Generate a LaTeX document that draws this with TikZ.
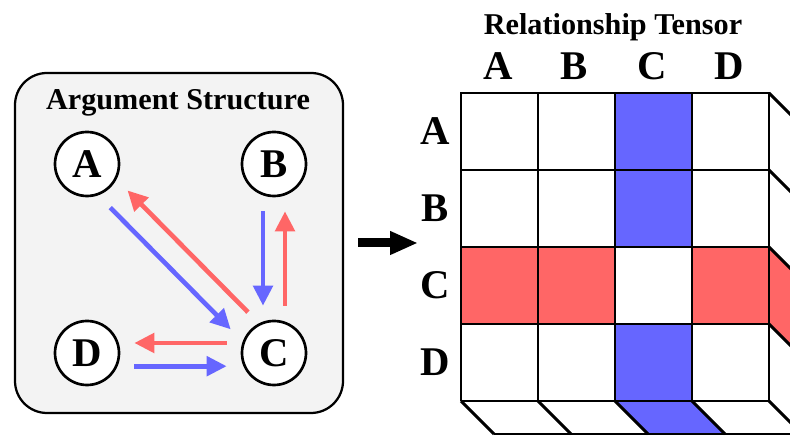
\documentclass[tikz,border=0pt]{standalone}
\usepackage{fontspec}
\setmainfont{Liberation Serif}
\usetikzlibrary{arrows.meta}

\definecolor{relblue}{HTML}{6666FF}
\definecolor{relred}{HTML}{FF6666}
\definecolor{panelgray}{HTML}{F3F3F3}

\begin{document}
\begin{tikzpicture}[x=1cm,y=1cm]
\tikzset{
  graphnode/.style={circle,draw,line width=1.9pt,fill=white,minimum size=16mm,inner sep=0pt,font=\fontsize{29}{30}\selectfont\bfseries},
  titletext/.style={anchor=base,font=\fontsize{21.5}{22}\selectfont\bfseries},
  axistext/.style={font=\fontsize{29}{30}\selectfont\bfseries},
  bluedirected/.style={-{Triangle[length=5mm,width=4.8mm]},line width=3.3pt,relblue,shorten <=3.5mm,shorten >=3.5mm},
  reddirected/.style={-{Triangle[length=5mm,width=4.8mm]},line width=3.3pt,relred,shorten <=3.5mm,shorten >=3.5mm},
  cellline/.style={line width=2.1pt,line join=miter}
}
\useasboundingbox (0,0) rectangle (19.75,10.925);
\clip (0,0) rectangle (19.75,10.925);
\draw[line width=1.6pt,fill=panelgray,rounded corners=0.8cm] (0.375,0.6) rectangle (8.575,9.1);
\node[titletext] (t_arg) at (4.45,8.175) {Argument Structure};
\node[graphnode] (n_A) at (2.175,6.825) {A};
\node[graphnode] (n_B) at (6.85,6.825) {B};
\node[graphnode] (n_C) at (6.85,2.1) {C};
\node[graphnode] (n_D) at (2.175,2.1) {D};
\draw[bluedirected,transform canvas={shift={(-0.25,-0.25)}}] (n_A) -- (n_C);
\draw[reddirected,transform canvas={shift={(0.18,0.18)}}] (n_C) -- (n_A);
\draw[bluedirected,transform canvas={shift={(-0.275,0)}}] (n_B) -- (n_C);
\draw[reddirected,transform canvas={shift={(0.275,0)}}] (n_C) -- (n_B);
\draw[reddirected,transform canvas={shift={(0,0.25)}}] (n_C) -- (n_D);
\draw[bluedirected,transform canvas={shift={(0,-0.33)}}] (n_D) -- (n_C);
\coordinate (arrow_tail) at (8.95,4.85);
\coordinate (arrow_head) at (10.45,4.85);
\draw[line width=6.4pt,-{Triangle[length=7mm,width=5.5mm]}] (arrow_tail) -- (arrow_head);
\node[titletext] (t_rel) at (15.325,10.05) {Relationship Tensor};
\node[axistext,anchor=base] (col_A) at (12.45,8.925) {A};
\node[axistext,anchor=base] (col_B) at (14.35,8.925) {B};
\node[axistext,anchor=base] (col_C) at (16.3,8.925) {C};
\node[axistext,anchor=base] (col_D) at (18.22,8.925) {D};
\node[axistext] (row_A) at (10.875,7.6375) {A};
\node[axistext] (row_B) at (10.875,5.7125) {B};
\node[axistext] (row_C) at (10.875,3.7875) {C};
\node[axistext] (row_D) at (10.875,1.8625) {D};
\fill[white] (11.525,0.9) rectangle (19.225,8.6);
\fill[relblue] (15.375,8.6) rectangle (17.3,4.75);
\fill[relblue] (15.375,2.825) rectangle (17.3,0.9);
\fill[relred] (11.525,4.75) rectangle (15.375,2.825);
\fill[relred] (17.3,4.75) rectangle (19.225,2.825);
\fill[relred] (19.225,4.75) -- ++(0.825,-0.825) -- ++(0,-1.925) -- (19.225,2.825) -- cycle;
\fill[relblue] (15.375,0.9) -- ++(0.825,-0.825) -- ++(1.925,0) -- (17.3,0.9) -- cycle;
\draw[cellline,shift={(11.525,0.9)}] (0,0) grid[step=1.925] (7.72,7.72);
\foreach \y in {8.6,6.675,4.75,2.825,0.9}
  \draw[cellline] (19.225,\y) -- ++(0.825,-0.825);
\foreach \x in {11.525,13.45,15.375,17.3}
  \draw[cellline] (\x,0.9) -- ++(0.825,-0.825);
\draw[cellline] (12.35,0.075) -- (20.05,0.075) -- (20.05,7.775);
\end{tikzpicture}
\end{document}
